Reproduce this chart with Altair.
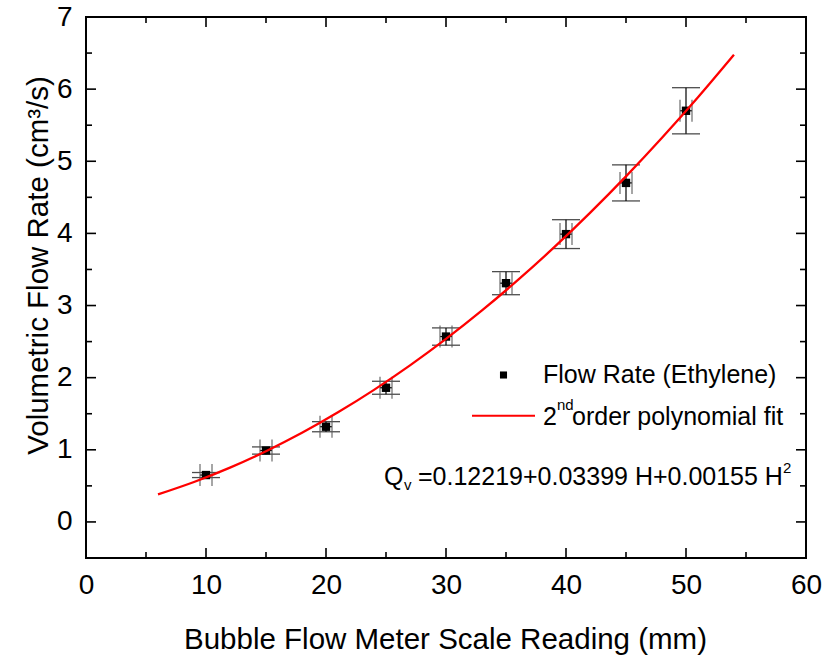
import altair as alt
import pandas as pd

H = [10, 15, 20, 25, 30, 35, 40, 45, 50]
Q = [0.65, 0.99, 1.32, 1.86, 2.57, 3.31, 3.99, 4.70, 5.70]
Q_err = [0.035, 0.05, 0.07, 0.09, 0.12, 0.16, 0.20, 0.25, 0.32]
H_err = [0.5, 0.5, 0.5, 0.5, 0.5, 0.5, 0.5, 0.5, 0.5]

# Fitted curve samples
fit_H = [6, 9, 12, 15, 18, 21, 24, 27, 30, 33, 36, 39, 42, 45, 48, 51, 54]
fit_Q = [0.382, 0.554, 0.753, 0.981, 1.236, 1.520, 1.831, 2.170, 2.537,
         2.932, 3.355, 3.805, 4.284, 4.790, 5.325, 5.887, 6.477]

# Axis ticks
x_major = [0, 10, 20, 30, 40, 50, 60]
x_minor = [5, 15, 25, 35, 45, 55]
y_major = [0, 1, 2, 3, 4, 5, 6, 7]
y_minor = [0.5, 1.5, 2.5, 3.5, 4.5, 5.5, 6.5]

W, HT = 720, 541
FONT = "Liberation Sans"

df = pd.DataFrame({"H": H, "Q": Q})
df["Q_lo"] = [q - e for q, e in zip(Q, Q_err)]
df["Q_hi"] = [q + e for q, e in zip(Q, Q_err)]
df["H_lo"] = [h - e for h, e in zip(H, H_err)]
df["H_hi"] = [h + e for h, e in zip(H, H_err)]
fit = pd.DataFrame({"H": fit_H, "Q": fit_Q})

xs = alt.Scale(domain=[0, 60], nice=False, zero=False)
ys = alt.Scale(domain=[-0.5, 7], nice=False, zero=False)

xaxis = alt.Axis(values=x_major, format="d", ticks=False, tickSize=0, domain=False, grid=False,
                 labelFont=FONT, labelFontSize=28, labelColor="black", labelPadding=35,
                 labelBaseline="alphabetic", labelFlush=False,
                 title="Bubble Flow Meter Scale Reading (mm)", titleFont=FONT, titleFontSize=29.5,
                 titleFontWeight="normal", titleColor="black", titleX=359, titleY=90,
                 titleBaseline="alphabetic")
yaxis = alt.Axis(values=y_major, format="d", ticks=False, tickSize=0, domain=False, grid=False,
                 labelFont=FONT, labelFontSize=28, labelColor="black", labelPadding=14,
                 labelFlush=False,
                 title="Volumetric Flow Rate (cm³/s)", titleFont=FONT, titleFontSize=29.5,
                 titleFontWeight="normal", titleColor="black", titleX=-39, titleY=248,
                 titleAngle=270, titleBaseline="alphabetic")


def X(field):
    return alt.X(field, scale=xs, axis=xaxis)


def Y(field):
    return alt.Y(field, scale=ys, axis=yaxis)


base = alt.Chart(df)

points = base.mark_square(size=70, color="black", opacity=1).encode(x=X("H:Q"), y=Y("Q:Q"))
yerr = base.mark_rule(color="black", strokeWidth=1.2).encode(x=X("H:Q"), y=Y("Q_lo:Q"), y2="Q_hi:Q")
ycap_lo = base.mark_tick(orient="horizontal", size=28, thickness=1.3, color="black").encode(
    x=X("H:Q"), y=Y("Q_lo:Q"))
ycap_hi = base.mark_tick(orient="horizontal", size=28, thickness=1.3, color="black").encode(
    x=X("H:Q"), y=Y("Q_hi:Q"))
xerr = base.mark_rule(color="black", strokeWidth=1.2).encode(x=X("H_lo:Q"), x2="H_hi:Q", y=Y("Q:Q"))
xcap_lo = base.mark_tick(orient="vertical", size=22, thickness=1.5, color="#555555").encode(
    x=X("H_lo:Q"), y=Y("Q:Q"))
xcap_hi = base.mark_tick(orient="vertical", size=22, thickness=1.5, color="#555555").encode(
    x=X("H_hi:Q"), y=Y("Q:Q"))

curve = alt.Chart(fit).mark_line(color="#ff0000", strokeWidth=2.3, interpolate="monotone").encode(
    x=X("H:Q"), y=Y("Q:Q"))


def xticks(vals, length):
    d = pd.DataFrame({"v": vals})
    bottom = alt.Chart(d).mark_rule(color="black", strokeWidth=1.6).encode(
        x=X("v:Q"), y=alt.value(HT), y2=alt.value(HT - length))
    top = alt.Chart(d).mark_rule(color="black", strokeWidth=1.6).encode(
        x=X("v:Q"), y=alt.value(0), y2=alt.value(length))
    return [bottom, top]


def yticks(vals, length):
    d = pd.DataFrame({"v": vals})
    left = alt.Chart(d).mark_rule(color="black", strokeWidth=1.6).encode(
        y=Y("v:Q"), x=alt.value(0), x2=alt.value(length))
    right = alt.Chart(d).mark_rule(color="black", strokeWidth=1.6).encode(
        y=Y("v:Q"), x=alt.value(W), x2=alt.value(W - length))
    return [left, right]


tick_layers = xticks(x_major, 10) + xticks(x_minor, 6) + yticks(y_major, 10) + yticks(y_minor, 6)


def label(text, x, y, size=25, align="left", baseline="alphabetic"):
    return alt.Chart(pd.DataFrame({"t": [text]})).mark_text(
        font=FONT, fontSize=size, color="black", align=align, baseline=baseline).encode(
        x=alt.value(x), y=alt.value(y), text="t:N")


legend_marker = alt.Chart(pd.DataFrame({"t": ["Flow Rate (Ethylene)"]})).mark_square(
    size=50, color="black", opacity=1).encode(x=alt.value(417.5), y=alt.value(358))
legend_line = alt.Chart(pd.DataFrame({"t": ["fit"]})).mark_rule(
    color="#ff0000", strokeWidth=2).encode(x=alt.value(386), x2=alt.value(449), y=alt.value(398.7))

annotations = [
    legend_marker,
    label("Flow Rate (Ethylene)", 457, 366),
    legend_line,
    label("2", 457, 408),
    label("nd", 471, 393, size=15),
    label("order polynomial fit", 486, 408),
    label("Q", 298, 468),
    label("v", 318, 473, size=15),
    label("=0.12219+0.03399 H+0.00155 H", 332, 468),
    label("2", 697, 456, size=15),
]

chart = alt.layer(
    points, *tick_layers, yerr, ycap_lo, ycap_hi, xerr, xcap_lo, xcap_hi, curve, *annotations
).properties(
    width=W, height=HT,
    padding={"left": 86, "top": 17, "right": 20, "bottom": 100},
    autosize=alt.AutoSizeParams(type="none"),
    background="white",
).configure_view(stroke="black", strokeWidth=2)

chart.save("out.html", embed_options={"renderer": "svg", "actions": False})
